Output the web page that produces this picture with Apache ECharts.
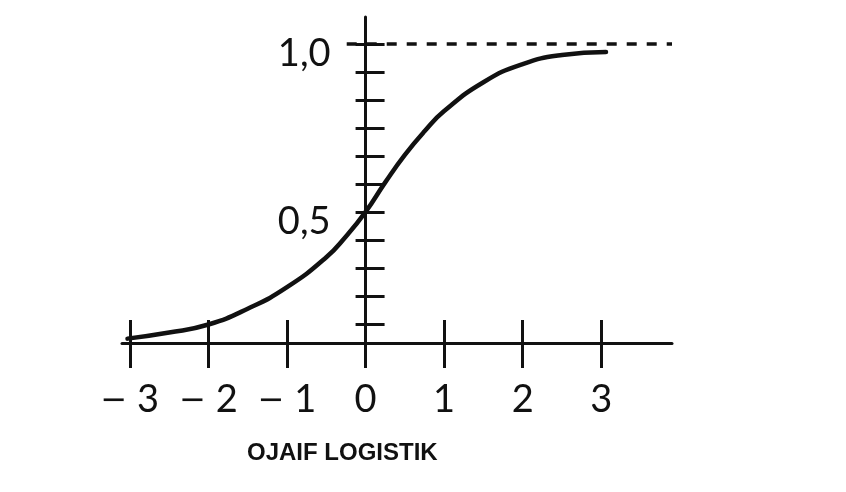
<!DOCTYPE html>
<html>
<head>
<meta charset="utf-8">
<script src="https://cdn.jsdelivr.net/npm/echarts@6/dist/echarts.min.js"></script>
<style>
html,body{margin:0;padding:0;background:#fff;}
#chart{width:846px;height:492px;}
</style>
</head>
<body>
<div id="chart"></div>
<script>
// Curve (x, y)
const curveX = [-3.03, -2.5, -2.0, -1.5, -1.0, -0.5, -0.25, 0.0, 0.25, 0.5, 0.75, 1.0, 1.5, 2.0, 2.5, 3.06];
const curveY = [0.123, 0.141, 0.165, 0.212, 0.276, 0.365, 0.427, 0.500, 0.588, 0.670, 0.740, 0.800, 0.886, 0.940, 0.967, 0.976];
// Tick values and labels
const xTickValues = [-3, -2, -1, 0, 1, 2, 3];
const yTickValues = [0.1667, 0.25, 0.3333, 0.4167, 0.5, 0.5833, 0.6667, 0.75, 0.8333, 0.9167, 1.0];
const yLabelValues = [0.5, 1.0];
// Asymptote (dashed) line
const asymptoteY = 1.0;
const asymptoteFromX = -0.24;
const asymptoteToX = 3.9;
const titleText = 'OJAIF LOGISTIK';

const ink = '#111';
const chart = echarts.init(document.getElementById('chart'), null, {renderer: 'canvas'});
const xRange = {min: -3.1, max: 3.9};
const yRange = {min: 0.11, max: 1.08};
const gridLeft = 122, gridRight = 174;
const gridWidth = 846 - gridLeft - gridRight;
// y axis sits where x = 0
const yAxisOffset = -((0 - xRange.min) / (xRange.max - xRange.min)) * gridWidth;

const option = {
  animation: false,
  backgroundColor: '#fff',
  title: {
    text: titleText,
    left: 247, top: 441, padding: 0,
    textStyle: {fontFamily: 'Liberation Sans', fontWeight: 'bold', fontSize: 24, color: ink}
  },
  grid: {left: gridLeft, right: gridRight, top: 17, bottom: 149, containLabel: false},
  xAxis: [
    {
      type: 'value', min: xRange.min, max: xRange.max, position: 'bottom',
      axisLine: {onZero: false, lineStyle: {color: ink, width: 3}},
      axisTick: {customValues: xTickValues, length: 25, lineStyle: {color: ink, width: 3}},
      axisLabel: {
        customValues: xTickValues, margin: 38, color: ink, fontFamily: 'Lato', fontSize: 38,
        formatter: v => (v < 0 ? '{m|\u2212} ' + Math.abs(v) : String(v)),
        rich: {
          m: {fontFamily: 'DejaVu Sans', fontSize: 32, color: ink, padding: [4, 0, 0, 0]}
        }
      },
      splitLine: {show: false}
    },
    {
      type: 'value', min: xRange.min, max: xRange.max, position: 'bottom',
      axisLine: {onZero: false, show: false},
      axisTick: {inside: true, customValues: xTickValues, length: 23, lineStyle: {color: ink, width: 3}},
      axisLabel: {show: false},
      splitLine: {show: false}
    }
  ],
  yAxis: [
    {
      type: 'value', min: yRange.min, max: yRange.max, position: 'left', offset: yAxisOffset,
      axisLine: {onZero: false, lineStyle: {color: ink, width: 3}},
      axisTick: {customValues: yTickValues, length: 10, lineStyle: {color: ink, width: 3}},
      axisLabel: {
        customValues: yLabelValues, margin: 35, color: ink, fontFamily: 'Lato', fontSize: 38,
        verticalAlign: 'top', lineHeight: 19,
        formatter: v => v.toFixed(1).replace('.', ',')
      },
      splitLine: {show: false}
    },
    {
      type: 'value', min: yRange.min, max: yRange.max, position: 'left', offset: yAxisOffset,
      axisLine: {onZero: false, show: false},
      axisTick: {inside: true, customValues: yTickValues, length: 19, lineStyle: {color: ink, width: 3}},
      axisLabel: {show: false},
      splitLine: {show: false}
    }
  ],
  series: [
    {
      type: 'line',
      xAxisIndex: 0, yAxisIndex: 0,
      data: curveX.map((x, i) => [x, curveY[i]]),
      smooth: 0.5,
      showSymbol: false,
      clip: false,
      lineStyle: {color: ink, width: 4.5, cap: 'round', join: 'round'},
      markLine: {
        silent: true,
        symbol: ['none', 'none'],
        label: {show: false},
        lineStyle: {color: ink, width: 3.5, type: [10, 10]},
        data: [[{coord: [asymptoteFromX, asymptoteY]}, {coord: [asymptoteToX, asymptoteY]}]]
      }
    }
  ]
};
chart.setOption(option);
</script>
</body>
</html>
